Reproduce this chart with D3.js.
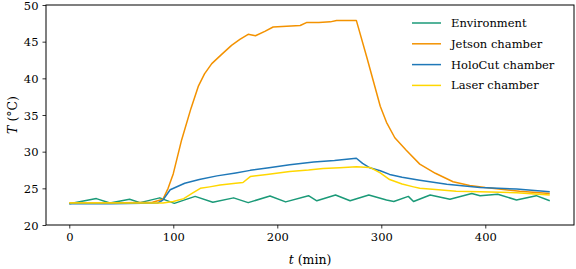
<!DOCTYPE html>
<html><head><meta charset="utf-8">
<script src="https://cdn.jsdelivr.net/npm/d3@7"></script>
<style>body{margin:0;background:#fff}svg{display:block}text{font-family:"DejaVu Serif",serif;}</style>
</head><body>
<svg id="c" width="576" height="269"></svg>
<script>
const envTime = [0,26,39,58,68,87,101,121,138,158,172,193,208,230,238,256,270,288,305,312,326,331,347,366,387,395,412,430,449,462];
const envTemp = [22.9,23.6,23.0,23.5,23.05,23.7,22.95,23.9,23.1,23.7,23.05,23.95,23.15,24.0,23.3,24.1,23.3,24.1,23.4,23.2,23.9,23.2,24.1,23.5,24.3,24.0,24.2,23.4,24.0,23.3];

const jetsonTime = [0,40,80,90,95,100,108,117,124,130,137,146,156,164,172,179,188,196,209,222,228,240,251,257,276,286,293,299,305,313,324,337,352,369,385,400,433,462];
const jetsonTemp = [23.0,23.0,23.1,23.5,25.0,27.0,31.6,35.9,38.9,40.6,42.0,43.2,44.5,45.3,46.0,45.8,46.4,47.0,47.1,47.2,47.6,47.6,47.7,47.9,47.9,42.9,39.3,36.2,34.0,31.9,30.2,28.3,27.05,25.9,25.4,25.1,24.6,24.3];

const holoTime = [0,40,85,90,97,111,125,142,160,174,192,212,235,255,276,282,289,299,308,320,337,363,395,430,462];
const holoTemp = [22.9,22.9,23.0,23.4,24.8,25.7,26.2,26.7,27.1,27.45,27.8,28.2,28.6,28.8,29.1,28.4,27.8,27.4,26.9,26.5,26.1,25.55,25.1,24.9,24.55];

const laserTime = [0,50,90,100,110,118,126,135,145,160,167,174,190,212,230,244,260,276,289,299,308,320,331,337,355,372,395,430,462];
const laserTemp = [23.0,23.0,23.0,23.2,23.6,24.3,25.0,25.2,25.45,25.7,25.8,26.6,26.9,27.3,27.5,27.7,27.8,27.95,27.85,27.1,26.2,25.6,25.2,25.0,24.8,24.6,24.55,24.4,24.1];

const seriesNames = ["Environment","Jetson chamber","HoloCut chamber","Laser chamber"];
const seriesColors = ["#1b9a78","#f39200","#1f78b8","#ffd700"];
const xTicks = [0,100,200,300,400];
const yTicks = [20,25,30,35,40,45,50];

const series = [
  {name:seriesNames[0], color:seriesColors[0], t:envTime, v:envTemp},
  {name:seriesNames[1], color:seriesColors[1], t:jetsonTime, v:jetsonTemp},
  {name:seriesNames[2], color:seriesColors[2], t:holoTime, v:holoTemp},
  {name:seriesNames[3], color:seriesColors[3], t:laserTime, v:laserTemp}
];

const L=46, R=574, T=5, B=225;
const svg = d3.select("#c");
const x = d3.scaleLinear().domain([-22.4,485.3]).range([L,R]);
const y = d3.scaleLinear().domain([20,50]).range([B,T]);
const fs = "11.5px";

const line = d3.line().x(d=>x(d[0])).y(d=>y(d[1]));
const g = svg.append("g");
series.forEach(s=>{
  g.append("path").datum(s.t.map((t,i)=>[t,s.v[i]]))
   .attr("d",line).attr("fill","none").attr("stroke",s.color)
   .attr("stroke-width",1.5).attr("stroke-linejoin","round");
});

svg.append("rect").attr("x",L).attr("y",T).attr("width",R-L).attr("height",B-T)
  .attr("fill","none").attr("stroke","#000").attr("stroke-width",1);

const xa = svg.append("g").attr("transform",`translate(0,${B})`)
  .call(d3.axisBottom(x).tickValues(xTicks).tickSize(3.5).tickPadding(4).tickFormat(d3.format("d")));
const ya = svg.append("g").attr("transform",`translate(${L},0)`)
  .call(d3.axisLeft(y).tickValues(yTicks).tickSize(3.5).tickPadding(4).tickFormat(d3.format("d")));
[xa,ya].forEach(a=>{
  a.select(".domain").remove();
  a.selectAll("line").attr("stroke","#000").attr("stroke-width",0.8);
  a.selectAll("text").attr("fill","#000").style("font-size",fs).style("font-family","DejaVu Serif");
});
ya.selectAll("text").attr("dy","0.36em");

svg.append("text").attr("x",310).attr("y",264).attr("text-anchor","middle")
  .style("font-size","12.5px")
  .html('<tspan font-style="italic">t</tspan> (min)');
svg.append("text").attr("transform","translate(17,115) rotate(-90)").attr("text-anchor","middle")
  .style("font-size","12.5px")
  .html('<tspan font-style="italic">T</tspan> (°C)');

const lg = svg.append("g");
series.forEach((s,i)=>{
  const yy = 23 + i*20.8;
  lg.append("line").attr("x1",412).attr("x2",441).attr("y1",yy).attr("y2",yy)
    .attr("stroke",s.color).attr("stroke-width",1.5);
  lg.append("text").attr("x",451).attr("y",yy+4).style("font-size",fs).text(s.name);
});
</script>
</body></html>
